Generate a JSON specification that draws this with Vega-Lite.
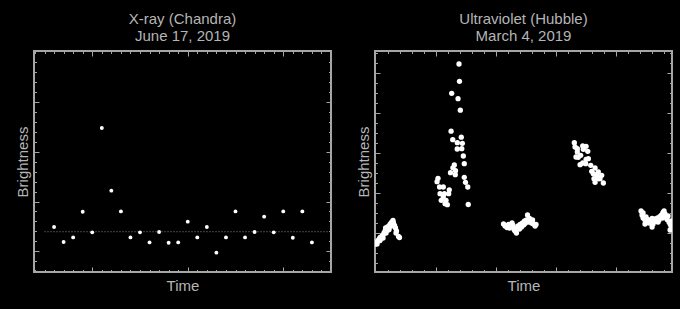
{
  "$schema": "https://vega.github.io/schema/vega-lite/v6.json",
  "background": "black",
  "padding": {"left": 14, "top": 10, "right": 4, "bottom": 18},
  "spacing": 22,
  "config": {
    "font": "Liberation Sans",
    "view": {"stroke": "#a6a6a6", "strokeWidth": 2},
    "axis": {"domain": false, "grid": false, "labels": false, "ticks": true, "tickColor": "#a6a6a6", "tickWidth": 1, "titleColor": "#b5b5b5", "titleFont": "Liberation Sans", "titleFontSize": 15, "titleFontWeight": "normal", "titlePadding": 6},
    "title": {"color": "#b5b5b5", "font": "Liberation Sans", "fontSize": 15, "fontWeight": "normal", "lineHeight": 17, "offset": 7, "frame": "group", "anchor": "middle"}
  },
  "hconcat": [
    {
      "width": 297,
      "height": 221,
      "title": {"text": ["X-ray (Chandra)", "June 17, 2019"]},
      "data": {"values": [
        {"t": 6, "b": 7.44}, {"t": 7, "b": 5.94}, {"t": 8, "b": 6.40}, {"t": 9, "b": 8.98},
        {"t": 10, "b": 6.91}, {"t": 11, "b": 17.37}, {"t": 12, "b": 11.09}, {"t": 13, "b": 9.01},
        {"t": 14, "b": 6.40}, {"t": 15, "b": 6.91}, {"t": 16, "b": 5.90}, {"t": 17, "b": 6.94},
        {"t": 18, "b": 5.87}, {"t": 19, "b": 5.90}, {"t": 20, "b": 7.98}, {"t": 21, "b": 6.40},
        {"t": 22, "b": 7.44}, {"t": 23, "b": 4.87}, {"t": 24, "b": 6.40}, {"t": 25, "b": 9.01},
        {"t": 26, "b": 6.40}, {"t": 27, "b": 6.94}, {"t": 28, "b": 8.48}, {"t": 29, "b": 6.91},
        {"t": 30, "b": 9.01}, {"t": 31, "b": 6.37}, {"t": 32, "b": 9.01}, {"t": 33, "b": 5.90}
      ]},
      "layer": [
        {
          "data": {"values": [{"t0": 5, "t1": 35, "level": 6.97}]},
          "mark": {"type": "rule", "color": "#8a8a8a", "strokeDash": [1, 2], "strokeWidth": 1},
          "encoding": {
            "x": {"field": "t0", "type": "quantitative", "scale": {"domain": [3.9, 35], "nice": false, "zero": false}, "axis": null},
            "x2": {"field": "t1"},
            "y": {"field": "level", "type": "quantitative", "scale": {"domain": [2.93, 25.1], "nice": false, "zero": false}, "axis": null}
          }
        },
        {
          "mark": {"type": "circle", "color": "white", "opacity": 1, "size": 15, "clip": true},
          "encoding": {
            "x": {"field": "t", "type": "quantitative", "scale": {"domain": [3.9, 35], "nice": false, "zero": false},
                  "axis": {"orient": "bottom", "title": "Time", "values": [4,5,6,7,8,9,10,11,12,13,14,15,16,17,18,19,20,21,22,23,24,25,26,27,28,29,30,31,32,33,34],
                           "tickSize": {"condition": {"test": "datum.value % 10 === 0", "value": -5}, "value": -2.5}}},
            "y": {"field": "b", "type": "quantitative", "scale": {"domain": [2.93, 25.1], "nice": false, "zero": false},
                  "axis": {"orient": "left", "title": "Brightness", "titlePadding": 3, "values": [3,4,5,6,7,8,9,10,11,12,13,14,15,16,17,18,19,20,21,22,23,24],
                           "tickSize": {"condition": {"test": "datum.value % 5 === 0", "value": -5}, "value": -2.5}}}
          }
        },
        {
          "mark": {"type": "circle", "opacity": 0, "size": 15},
          "encoding": {
            "x": {"field": "t", "type": "quantitative", "scale": {"domain": [3.9, 35], "nice": false, "zero": false},
                  "axis": {"orient": "top", "title": null, "values": [4,5,6,7,8,9,10,11,12,13,14,15,16,17,18,19,20,21,22,23,24,25,26,27,28,29,30,31,32,33,34],
                           "tickSize": {"condition": {"test": "datum.value % 10 === 0", "value": -5}, "value": -2.5}}},
            "y": {"field": "b", "type": "quantitative", "scale": {"domain": [2.93, 25.1], "nice": false, "zero": false},
                  "axis": {"orient": "right", "title": null, "values": [3,4,5,6,7,8,9,10,11,12,13,14,15,16,17,18,19,20,21,22,23,24],
                           "tickSize": {"condition": {"test": "datum.value % 5 === 0", "value": -5}, "value": -2.5}}}
          }
        }
      ],
      "resolve": {"axis": {"x": "independent", "y": "independent"}}
    },
    {
      "width": 297,
      "height": 221,
      "title": {"text": ["Ultraviolet (Hubble)", "March 4, 2019"]},
      "data": {"values": [
        {"t": -0.02, "b": 2.87}, {"t": 0.07, "b": 3.07}, {"t": 0.15, "b": 3.12}, {"t": 0.23, "b": 3.27},
        {"t": 0.32, "b": 3.37}, {"t": 0.36, "b": 3.52}, {"t": 0.44, "b": 3.47}, {"t": 0.53, "b": 3.67},
        {"t": 0.61, "b": 3.77}, {"t": 0.69, "b": 3.97}, {"t": 0.78, "b": 4.17}, {"t": 0.82, "b": 4.47},
        {"t": 0.90, "b": 4.37}, {"t": 0.98, "b": 4.57}, {"t": 1.03, "b": 4.27}, {"t": 1.11, "b": 4.67},
        {"t": 1.19, "b": 4.82}, {"t": 1.28, "b": 4.97}, {"t": 1.36, "b": 5.07}, {"t": 1.44, "b": 5.22},
        {"t": 1.48, "b": 4.97}, {"t": 1.57, "b": 4.72}, {"t": 1.65, "b": 4.47}, {"t": 1.73, "b": 4.17},
        {"t": 1.69, "b": 3.97}, {"t": 1.90, "b": 3.62}, {"t": 1.98, "b": 3.52}, {"t": 0.11, "b": 2.87},
        {"t": 0.36, "b": 3.22}, {"t": 0.61, "b": 3.47}, {"t": 0.86, "b": 3.97}, {"t": 1.11, "b": 4.32},
        {"t": 1.32, "b": 4.67},

        {"t": 6.94, "b": 20.87}, {"t": 6.98, "b": 19.14}, {"t": 6.33, "b": 17.94}, {"t": 6.86, "b": 17.40},
        {"t": 7.05, "b": 16.25}, {"t": 6.28, "b": 14.15}, {"t": 7.13, "b": 13.55}, {"t": 6.42, "b": 13.30},
        {"t": 6.80, "b": 13.00}, {"t": 7.22, "b": 12.94}, {"t": 6.79, "b": 12.37}, {"t": 7.17, "b": 12.40},
        {"t": 7.30, "b": 11.67}, {"t": 7.38, "b": 10.90}, {"t": 6.55, "b": 10.77}, {"t": 6.43, "b": 10.49},
        {"t": 6.65, "b": 10.20}, {"t": 6.23, "b": 10.00}, {"t": 6.63, "b": 9.80}, {"t": 7.38, "b": 9.54},
        {"t": 7.48, "b": 9.04}, {"t": 7.67, "b": 8.57}, {"t": 7.71, "b": 6.82},
        {"t": 5.19, "b": 9.44}, {"t": 5.11, "b": 9.10}, {"t": 5.32, "b": 8.57}, {"t": 5.63, "b": 8.57},
        {"t": 6.13, "b": 8.29}, {"t": 5.36, "b": 7.90}, {"t": 5.72, "b": 7.90}, {"t": 6.08, "b": 7.90},
        {"t": 5.63, "b": 7.57}, {"t": 5.46, "b": 7.24}, {"t": 5.86, "b": 7.24}, {"t": 5.97, "b": 6.80},
        {"t": 5.78, "b": 6.90},

        {"t": 10.65, "b": 4.87}, {"t": 10.78, "b": 4.67}, {"t": 10.94, "b": 4.52}, {"t": 11.07, "b": 4.82},
        {"t": 11.15, "b": 4.47}, {"t": 11.28, "b": 4.67}, {"t": 11.36, "b": 4.97}, {"t": 11.44, "b": 4.72},
        {"t": 11.53, "b": 4.32}, {"t": 11.61, "b": 4.17}, {"t": 11.73, "b": 3.97}, {"t": 11.78, "b": 4.47},
        {"t": 11.86, "b": 4.67}, {"t": 11.98, "b": 4.37}, {"t": 12.03, "b": 4.82}, {"t": 12.15, "b": 4.57},
        {"t": 12.23, "b": 4.97}, {"t": 12.32, "b": 4.77}, {"t": 12.40, "b": 5.17}, {"t": 12.44, "b": 4.92},
        {"t": 12.57, "b": 5.27}, {"t": 12.65, "b": 5.77}, {"t": 12.69, "b": 5.07}, {"t": 12.82, "b": 5.42},
        {"t": 12.90, "b": 5.17}, {"t": 12.98, "b": 4.97}, {"t": 13.07, "b": 5.27}, {"t": 13.15, "b": 4.87},
        {"t": 13.28, "b": 4.67}, {"t": 13.36, "b": 4.82},

        {"t": 16.55, "b": 13.00}, {"t": 16.61, "b": 12.57}, {"t": 16.80, "b": 12.40}, {"t": 17.25, "b": 12.67},
        {"t": 17.53, "b": 12.64}, {"t": 17.30, "b": 12.34}, {"t": 17.67, "b": 12.14}, {"t": 16.80, "b": 12.07},
        {"t": 16.88, "b": 11.54}, {"t": 17.08, "b": 11.74}, {"t": 16.69, "b": 11.57}, {"t": 17.53, "b": 11.34},
        {"t": 17.72, "b": 11.40}, {"t": 17.25, "b": 10.97}, {"t": 17.50, "b": 10.90}, {"t": 17.03, "b": 10.80},
        {"t": 17.92, "b": 10.74}, {"t": 18.28, "b": 10.47}, {"t": 18.00, "b": 10.14}, {"t": 18.13, "b": 9.90},
        {"t": 18.42, "b": 9.80}, {"t": 18.55, "b": 10.07}, {"t": 18.83, "b": 9.74}, {"t": 18.69, "b": 9.40},
        {"t": 18.19, "b": 9.40}, {"t": 18.28, "b": 9.04}, {"t": 18.97, "b": 8.97}, {"t": 18.55, "b": 9.40},

        {"t": 22.11, "b": 6.17}, {"t": 22.19, "b": 5.77}, {"t": 22.28, "b": 5.97}, {"t": 22.28, "b": 5.47},
        {"t": 22.44, "b": 5.27}, {"t": 22.44, "b": 4.87}, {"t": 22.53, "b": 5.57}, {"t": 22.61, "b": 5.32},
        {"t": 22.69, "b": 5.17}, {"t": 22.78, "b": 4.97}, {"t": 22.86, "b": 5.27}, {"t": 22.98, "b": 5.07},
        {"t": 23.03, "b": 4.57}, {"t": 23.03, "b": 5.42}, {"t": 23.11, "b": 4.87}, {"t": 23.19, "b": 5.17},
        {"t": 23.28, "b": 5.37}, {"t": 23.40, "b": 5.12}, {"t": 23.48, "b": 5.47}, {"t": 23.53, "b": 5.07},
        {"t": 23.61, "b": 5.27}, {"t": 23.69, "b": 5.62}, {"t": 23.82, "b": 5.77}, {"t": 23.90, "b": 5.47},
        {"t": 23.94, "b": 6.02}, {"t": 24.03, "b": 6.17}, {"t": 24.11, "b": 5.87}, {"t": 24.19, "b": 5.57},
        {"t": 24.28, "b": 5.32}, {"t": 24.36, "b": 5.67}, {"t": 24.44, "b": 5.07}, {"t": 24.53, "b": 4.87},
        {"t": 24.61, "b": 4.67}, {"t": 24.65, "b": 5.17}, {"t": 24.53, "b": 4.27}
      ]},
      "layer": [
        {
          "mark": {"type": "circle", "color": "white", "opacity": 1, "size": 28, "clip": true},
          "encoding": {
            "x": {"field": "t", "type": "quantitative", "scale": {"domain": [-0.06, 24.69], "nice": false, "zero": false},
                  "axis": {"orient": "bottom", "title": "Time", "values": [1,2,3,4,5,6,7,8,9,10,11,12,13,14,15,16,17,18,19,20,21,22,23,24],
                           "tickSize": {"condition": {"test": "datum.value % 5 === 0", "value": -5}, "value": -2.5}}},
            "y": {"field": "b", "type": "quantitative", "scale": {"domain": [0.07, 22.17], "nice": false, "zero": false},
                  "axis": {"orient": "left", "title": "Brightness", "titlePadding": 3, "values": [1,2,3,4,5,6,7,8,9,10,11,12,13,14,15,16,17,18,19,20,21,22],
                           "tickSize": {"condition": {"test": "datum.value % 4 === 0", "value": -5}, "value": -2.5}}}
          }
        },
        {
          "mark": {"type": "circle", "opacity": 0, "size": 28},
          "encoding": {
            "x": {"field": "t", "type": "quantitative", "scale": {"domain": [-0.06, 24.69], "nice": false, "zero": false},
                  "axis": {"orient": "top", "title": null, "values": [1,2,3,4,5,6,7,8,9,10,11,12,13,14,15,16,17,18,19,20,21,22,23,24],
                           "tickSize": {"condition": {"test": "datum.value % 5 === 0", "value": -5}, "value": -2.5}}},
            "y": {"field": "b", "type": "quantitative", "scale": {"domain": [0.07, 22.17], "nice": false, "zero": false},
                  "axis": {"orient": "right", "title": null, "values": [1,2,3,4,5,6,7,8,9,10,11,12,13,14,15,16,17,18,19,20,21,22],
                           "tickSize": {"condition": {"test": "datum.value % 4 === 0", "value": -5}, "value": -2.5}}}
          }
        }
      ],
      "resolve": {"axis": {"x": "independent", "y": "independent"}}
    }
  ]
}
